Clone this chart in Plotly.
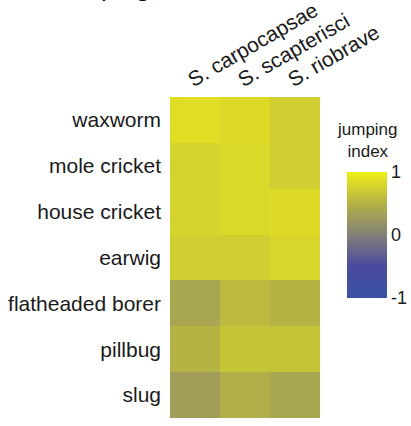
import plotly.graph_objects as go

# Nematode species (columns) and host insects (rows)
species = ["S. carpocapsae", "S. scapterisci", "S. riobrave"]
hosts = ["waxworm", "mole cricket", "house cricket", "earwig",
         "flatheaded borer", "pillbug", "slug"]

# Jumping index per host, one list per species column
carpocapsae = [0.87, 0.78, 0.78, 0.73, 0.38, 0.51, 0.30]
scapterisci = [0.83, 0.82, 0.82, 0.73, 0.57, 0.64, 0.46]
riobrave = [0.73, 0.73, 0.83, 0.80, 0.51, 0.64, 0.38]

colorbar_ticks = [-1, 0, 1]

z = [[carpocapsae[i], scapterisci[i], riobrave[i]] for i in range(len(hosts))]

W, H = 411, 426
ml, mr, mt, mb = 170, 91, 97, 8
pw, ph = W - ml - mr, H - mt - mb


def px_x(x):
    return (x - ml) / pw


def px_y(y):
    return (H - mb - y) / ph


colorscale = [
    [0.0, "#3953a4"],
    [0.25, "#4a4a9e"],
    [0.5, "#838078"],
    [0.75, "#b4b245"],
    [1.0, "#f0ee18"],
]

FONT = "Liberation Sans, Arial"

fig = go.Figure(go.Heatmap(
    z=z, x=species, y=hosts,
    zmin=-1, zmax=1,
    colorscale=colorscale,
    xgap=0, ygap=0,
    colorbar=dict(
        x=px_x(347), xanchor="left",
        y=px_y(235), yanchor="middle",
        thickness=40, thicknessmode="pixels",
        len=126, lenmode="pixels",
        outlinewidth=0,
        tickvals=colorbar_ticks,
        ticktext=[str(v) for v in colorbar_ticks],
        ticks="",
        tickfont=dict(family=FONT, size=18, color="#1a1a1a"),
        ypad=0, xpad=0,
    ),
))

fig.update_xaxes(
    side="top", tickangle=-30, ticks="", showgrid=False, zeroline=False,
    showline=False, automargin=False, ticklabelshift=-7,
    ticklabelstandoff=3,
    tickfont=dict(family=FONT, size=21, color="#1a1a1a"),
)
fig.update_yaxes(
    autorange="reversed", ticks="", showgrid=False, zeroline=False,
    showline=False, ticklabelstandoff=8, automargin=False,
    tickfont=dict(family=FONT, size=21, color="#1a1a1a"),
)

fig.add_annotation(
    text="jumping<br>index", xref="paper", yref="paper",
    x=px_x(367), y=px_y(140), xanchor="center", yanchor="middle",
    showarrow=False,
    font=dict(family=FONT, size=17, color="#1a1a1a"),
)

fig.add_annotation(
    text="Jumping", xref="paper", yref="paper",
    x=px_x(152), y=px_y(4), xanchor="right", yanchor="bottom",
    showarrow=False,
    font=dict(family=FONT, size=26, color="#111"),
)

fig.update_layout(
    width=W, height=H,
    margin=dict(l=ml, r=mr, t=mt, b=mb),
    plot_bgcolor="white", paper_bgcolor="white",
)

fig.write_html("out.html")
